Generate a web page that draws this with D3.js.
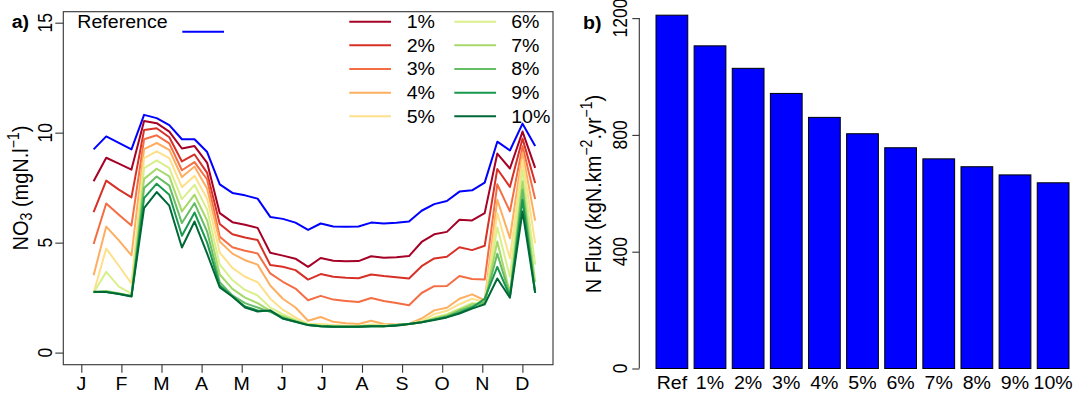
<!DOCTYPE html>
<html>
<head>
<meta charset="utf-8">
<script src="https://cdn.jsdelivr.net/npm/d3@7"></script>
<style>
  html, body { margin: 0; padding: 0; background: #fff; }
  svg { display: block; font-family: "Liberation Sans", Arial, sans-serif; }
</style>
</head>
<body>
<svg id="chart" width="1075" height="396"></svg>
<script>
// ---- data -------------------------------------------------------------
const monthLabels = ["J", "F", "M", "A", "M", "J", "J", "A", "S", "O", "N", "D"];
const monthTicks = d3.range(12);                 // month index 0..11
// sampling dates (fraction of months since 1 January), 36 samples
const sampleMonths = d3.range(36).map(i => 0.307 + i * 0.3146);

const refNO3 = [9.24, 9.83, 9.54, 9.24, 10.81, 10.66, 10.34, 9.70, 9.70, 9.12, 7.65, 7.26, 7.15, 7.00, 6.17, 6.08, 5.91, 5.58,
                5.87, 5.73, 5.72, 5.73, 5.91, 5.87, 5.90, 5.96, 6.45, 6.75, 6.89, 7.32, 7.38, 7.73, 9.59, 9.19, 10.41, 9.39];
const pct1  = [7.79, 8.86, 8.59, 8.32, 10.53, 10.43, 10.05, 9.28, 9.39, 8.63, 6.34, 5.93, 5.81, 5.67, 4.54, 4.41, 4.27, 3.90,
               4.30, 4.18, 4.15, 4.16, 4.38, 4.31, 4.34, 4.39, 5.03, 5.38, 5.49, 6.04, 6.01, 6.34, 9.05, 8.37, 10.05, 8.40];
const pct2  = [6.39, 7.82, 7.41, 7.06, 10.12, 10.20, 9.79, 8.69, 9.01, 8.17, 5.85, 5.38, 5.23, 5.12, 3.98, 3.90, 3.75, 3.32,
               3.57, 3.45, 3.40, 3.38, 3.55, 3.48, 3.43, 3.37, 3.93, 4.28, 4.36, 4.79, 4.66, 4.86, 8.35, 7.53, 9.73, 7.71];
const pct3  = [4.94, 6.78, 6.27, 5.78, 9.70, 9.88, 9.51, 8.29, 8.66, 7.87, 5.27, 4.79, 4.63, 4.51, 3.60, 3.22, 2.91, 2.38,
               2.58, 2.41, 2.35, 2.30, 2.48, 2.35, 2.26, 2.15, 2.71, 3.02, 3.03, 3.48, 3.35, 3.32, 7.65, 6.42, 9.39, 6.98];
const pct4  = [3.52, 5.73, 5.10, 4.42, 9.25, 9.53, 9.22, 7.98, 8.46, 7.45, 5.05, 4.50, 4.20, 4.00, 3.05, 2.45, 2.05, 1.45,
               1.62, 1.40, 1.33, 1.30, 1.45, 1.30, 1.28, 1.30, 1.55, 1.92, 2.04, 2.45, 2.65, 2.38, 6.95, 5.20, 9.09, 6.00];
const pct5  = [2.71, 4.73, 3.95, 3.14, 8.84, 9.15, 8.84, 7.52, 8.04, 7.00, 4.55, 3.85, 3.45, 3.20, 2.45, 1.95, 1.60, 1.30,
               1.30, 1.25, 1.22, 1.22, 1.28, 1.25, 1.25, 1.30, 1.45, 1.75, 1.90, 2.20, 2.45, 2.30, 6.35, 4.28, 8.78, 4.97];
const pct6  = [2.72, 3.67, 3.00, 2.68, 8.39, 8.74, 8.39, 6.98, 7.63, 6.50, 4.00, 3.30, 2.85, 2.60, 2.05, 1.75, 1.50, 1.30,
               1.25, 1.22, 1.20, 1.20, 1.25, 1.22, 1.25, 1.30, 1.40, 1.60, 1.75, 2.00, 2.25, 2.20, 5.70, 3.45, 8.32, 4.00];
const pct7  = [2.74, 2.80, 2.70, 2.58, 7.90, 8.36, 8.01, 6.42, 7.18, 6.00, 3.55, 2.90, 2.50, 2.25, 1.90, 1.65, 1.45, 1.28,
               1.22, 1.20, 1.18, 1.20, 1.22, 1.20, 1.25, 1.30, 1.38, 1.55, 1.70, 1.95, 2.20, 2.25, 5.05, 2.70, 7.79, 3.20];
const pct8  = [2.75, 2.78, 2.68, 2.57, 7.48, 8.01, 7.59, 5.89, 6.80, 5.50, 3.20, 2.60, 2.25, 2.05, 1.85, 1.60, 1.42, 1.26,
               1.20, 1.18, 1.18, 1.18, 1.20, 1.20, 1.25, 1.30, 1.38, 1.52, 1.65, 1.90, 2.10, 2.30, 4.50, 2.60, 7.41, 2.75];
const pct9  = [2.76, 2.76, 2.67, 2.56, 7.02, 7.68, 7.18, 5.31, 6.37, 5.00, 3.05, 2.55, 2.10, 1.92, 1.88, 1.55, 1.40, 1.25,
               1.20, 1.18, 1.18, 1.18, 1.20, 1.20, 1.25, 1.30, 1.38, 1.50, 1.62, 1.82, 2.05, 2.45, 3.90, 2.56, 6.95, 2.72];
const pct10 = [2.77, 2.75, 2.66, 2.55, 6.57, 7.30, 6.68, 4.78, 5.96, 4.50, 2.96, 2.55, 2.05, 1.87, 1.92, 1.55, 1.40, 1.25,
               1.20, 1.18, 1.18, 1.18, 1.20, 1.20, 1.22, 1.30, 1.38, 1.48, 1.60, 1.78, 2.00, 2.20, 3.37, 2.50, 6.42, 2.72];

const scenarioLabels = ["1%", "2%", "3%", "4%", "5%", "6%", "7%", "8%", "9%", "10%"];
const scenarioColors = ["#a50026", "#d73027", "#f46d43", "#fdae61", "#fee08b",
                        "#d9ef8b", "#a6d96a", "#66bd63", "#1a9850", "#006837"];
const scenarioSeries = [pct1, pct2, pct3, pct4, pct5, pct6, pct7, pct8, pct9, pct10];
const no3Ticks = [0, 5, 10, 15];

const fluxCategories = ["Ref", "1%", "2%", "3%", "4%", "5%", "6%", "7%", "8%", "9%", "10%"];
const nFlux = [1210, 1105, 1028, 942, 860, 804, 756, 718, 691, 663, 636];
const fluxTicks = [0, 400, 800, 1200];

// ---- layout -----------------------------------------------------------
const svg = d3.select("#chart");
const FS = 17.5;          // base font size
const TS = 20;            // axis title font size
const SX = 1.12;          // horizontal glyph stretch
const axisColor = "#333";

function txt(g, str, x, y, opts = {}) {
  const rot = opts.rotate || 0;
  const t = g.append("text")
    .attr("transform", `translate(${x},${y}) scale(${SX},1) rotate(${rot})`)
    .attr("font-size", opts.size || FS)
    .attr("font-weight", opts.weight || "normal")
    .attr("text-anchor", opts.anchor || "middle")
    .attr("fill", "#000");
  if (str !== null) t.text(str);
  return t;
}

// ======================= panel a: NO3 time series =======================
const A = { left: 63.3, right: 553, top: 11.7, bottom: 364.7 };
const x = d3.scaleLinear().domain([-0.449, 11.763]).range([A.left, A.right]);
const y = d3.scaleLinear().domain([-0.55, 15.5]).range([A.bottom, A.top]);

const gA = svg.append("g");

// series lines
const line = d3.line().x((d, i) => x(sampleMonths[i])).y(d => y(d));
gA.append("path").datum(refNO3)
  .attr("d", line).attr("fill", "none").attr("stroke", "#0000ff").attr("stroke-width", 2)
  .attr("stroke-linejoin", "round");
scenarioSeries.forEach((s, k) => {
  gA.append("path").datum(s)
    .attr("d", line).attr("fill", "none").attr("stroke", scenarioColors[k]).attr("stroke-width", 2)
    .attr("stroke-linejoin", "round");
});

// frame
gA.append("rect")
  .attr("x", A.left).attr("y", A.top)
  .attr("width", A.right - A.left).attr("height", A.bottom - A.top)
  .attr("fill", "none").attr("stroke", axisColor).attr("stroke-width", 1.1);

// x axis (months)
const xAxis = d3.axisBottom(x).tickValues(monthTicks).tickSize(8).tickFormat(() => "");
const gx = gA.append("g").attr("transform", `translate(0,${A.bottom})`).call(xAxis);
gx.select(".domain").remove();
gx.selectAll(".tick line").attr("stroke", axisColor).attr("stroke-width", 1.1);
monthTicks.forEach((m, i) => txt(gA, monthLabels[i], x(m), 389.5));

// y axis
const yAxis = d3.axisLeft(y).tickValues(no3Ticks).tickSize(8).tickFormat(() => "");
const gy = gA.append("g").attr("transform", `translate(${A.left},0)`).call(yAxis);
gy.select(".domain").remove();
gy.selectAll(".tick line").attr("stroke", axisColor).attr("stroke-width", 1.1);
no3Ticks.forEach(v => txt(gA, String(v), 52.3, y(v), { rotate: -90 }));

// y title
const tA = txt(gA, null, 28, 188, { rotate: -90, size: TS });
tA.append("tspan").text("NO");
tA.append("tspan").attr("font-size", TS * 0.7).attr("dy", 3.5).text("3");
tA.append("tspan").attr("dy", -3.5).text(" (mgN.l");
tA.append("tspan").attr("font-size", TS * 0.7).attr("dy", -8).text("\u22121");
tA.append("tspan").attr("dy", 8).text(")");

// panel tag
txt(gA, "a)", 11.7, 27.5, { anchor: "start", weight: "bold" });

// legend: reference
txt(gA, "Reference", 77.3, 27.5, { anchor: "start" });
gA.append("line").attr("x1", 182.3).attr("x2", 224).attr("y1", 31.7).attr("y2", 31.7)
  .attr("stroke", "#0000ff").attr("stroke-width", 2);

// legend: scenarios in two columns
scenarioLabels.forEach((lab, k) => {
  const col = Math.floor(k / 5), row = k % 5;
  const ly = 21.7 + row * 23.65;
  const lx = col === 0 ? 349.3 : 454.3;
  gA.append("line").attr("x1", lx).attr("x2", lx + 41.7).attr("y1", ly).attr("y2", ly)
    .attr("stroke", scenarioColors[k]).attr("stroke-width", 2);
  txt(gA, lab, col === 0 ? 406.7 : 511.2, ly + 6.2, { anchor: "start" });
});

// ======================= panel b: N flux bars ===========================
const xb = d3.scaleBand().domain(fluxCategories).range([656, 1069]).paddingInner(0.1667).paddingOuter(0);
const yb = d3.scaleLinear().domain([0, 1200]).range([368.5, 18.1]);
const gB = svg.append("g");

gB.selectAll("rect.bar").data(nFlux).join("rect")
  .attr("class", "bar")
  .attr("x", (d, i) => xb(fluxCategories[i]))
  .attr("y", d => yb(d))
  .attr("width", xb.bandwidth())
  .attr("height", d => yb(0) - yb(d))
  .attr("fill", "#0000ff").attr("stroke", "#000").attr("stroke-width", 1);

const ybAxis = d3.axisLeft(yb).tickValues(fluxTicks).tickSize(7).tickFormat(() => "");
const gyb = gB.append("g").attr("transform", "translate(639.3,0)").call(ybAxis);
gyb.select(".domain").attr("stroke", axisColor).attr("stroke-width", 1.1).attr("d", `M0,${yb(0)}V${yb(1200)}`);
gyb.selectAll(".tick line").attr("stroke", axisColor).attr("stroke-width", 1.1);
fluxTicks.forEach(v => txt(gB, String(v), 626.5, yb(v), { rotate: -90 }));

fluxCategories.forEach(c => txt(gB, c, xb(c) + xb.bandwidth() / 2, 389.3));

const tB = txt(gB, null, 600.5, 194, { rotate: -90, size: TS });
tB.append("tspan").text("N Flux (kgN.km");
tB.append("tspan").attr("font-size", TS * 0.7).attr("dy", -8).text("\u22122");
tB.append("tspan").attr("dy", 8).text(".yr");
tB.append("tspan").attr("font-size", TS * 0.7).attr("dy", -8).text("\u22121");
tB.append("tspan").attr("dy", 8).text(")");

txt(gB, "b)", 583, 29, { anchor: "start", weight: "bold" });
</script>
</body>
</html>
